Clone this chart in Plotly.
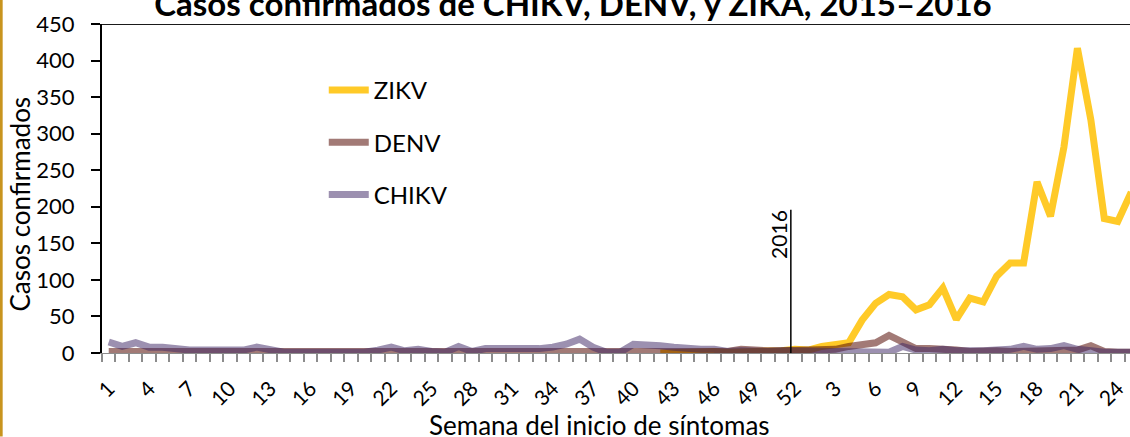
import plotly.graph_objects as go

# ---------------- data ----------------
weeks_2015 = list(range(1, 53))
weeks_2016 = list(range(1, 26))
week_labels = [str(w) for w in weeks_2015] + [str(w) for w in weeks_2016]

zikv_2015 = [None] * 41 + [0, 1, 1, 2, 2, 1, 1, 1, 2, 3, 5]
zikv_2016 = [4, 9, 11, 14, 45, 68, 80, 77, 59, 66, 89, 46, 75, 70, 105, 123, 123,
             234, 187, 282, 417, 319, 184, 180, 220]

denv_2015 = [2, 2, 3, 1, 1, 1, 1, 1, 3, 1, 3, 2, 1, 1, 1, 1, 1, 1, 1, 1, 1, 1, 1, 1, 1, 1, 2,
             1, 1, 1, 1, 1, 1, 1, 1, 1, 1, 1, 1, 1, 1, 1, 2, 2, 2, 3, 2, 5, 3, 3, 3, 3]
denv_2016 = [3, 3, 5, 9, 11, 14, 24, 14, 6, 6, 6, 4, 2, 3, 3, 2, 2, 2, 2, 3, 4, 10, 2, 1, 1]

chikv_2015 = [15, 9, 14, 8, 8, 5, 4, 4, 4, 4, 4, 8, 5, 1, 1, 1, 1, 1, 1, 1, 4, 8, 3, 5, 2, 1, 9,
              2, 6, 6, 4, 4, 6, 8, 12, 19, 8, 1, 1, 12, 12, 10, 8, 6, 5, 5, 2, 3, 2, 2, 3, 3]
chikv_2016 = [2, 2, 3, 3, 3, 3, 1, 9, 4, 3, 5, 3, 2, 3, 4, 5, 9, 5, 6, 10, 5, 2, 1, 1, 1]

series_names = ["ZIKV", "DENV", "CHIKV"]
y_ticks = list(range(0, 451, 50))
year_marker_label = "2016"

# ---------------- build ----------------
FONT = "Lato"
n = len(week_labels)
xpos = list(range(1, n + 1))

zikv = zikv_2015 + zikv_2016
denv = denv_2015 + denv_2016
chikv = chikv_2015 + chikv_2016

colors = {
    "ZIKV": "#FFCA28",
    "DENV": "rgba(86,13,6,0.55)",
    "CHIKV": "rgba(57,33,97,0.5)",
}
data = {"ZIKV": zikv, "DENV": denv, "CHIKV": chikv}

fig = go.Figure()
for name in series_names:
    fig.add_trace(go.Scatter(
        x=xpos, y=data[name], mode="lines", name=name,
        legendgroup=name,
        line=dict(color=colors[name], width=7, shape="linear"),
        connectgaps=False, hoverinfo="skip",
    ))

W, H = 1130, 437
ml, mr, mt, mb = 102.3, 0, 24, 83.7
pw = W - ml - mr
ph = H - mt - mb

x_range = [0.5, 0.5 + pw / 13.45]

major_vals = xpos[::3]
major_text = week_labels[::3]
minor_vals = [i + 0.5 for i in range(0, n + 1)]

fig.update_layout(
    width=W, height=H, autosize=False,
    margin=dict(l=ml, r=mr, t=mt, b=mb, pad=0),
    paper_bgcolor="white", plot_bgcolor="white",
    font=dict(family=FONT, color="black"),
    showlegend=True,
    legend=dict(
        x=(324 - ml) / pw, y=1 - (68 - mt) / ph, xanchor="left", yanchor="top",
        font=dict(size=24, family=FONT, color="black"),
        bgcolor="rgba(0,0,0,0)", tracegroupgap=18, traceorder="grouped",
        itemwidth=40,
    ),
    title=dict(
        text="<b>Casos confirmados de CHIKV, DENV, y ZIKA, 2015–2016</b>",
        x=573 / W, xanchor="center", y=1 - 4 / H, yanchor="middle",
        font=dict(size=33, family=FONT, color="black", weight=900),
    ),
    xaxis=dict(
        range=x_range, tickmode="array", tickvals=major_vals, ticktext=major_text,
        tickangle=-45, ticks="outside", ticklen=14, tickcolor="rgba(0,0,0,0)",
        tickfont=dict(size=21, family=FONT, color="black"),
        showgrid=False, zeroline=False, showline=True, linecolor="#8c8c8c", linewidth=1,
        minor=dict(tickmode="array", tickvals=minor_vals, ticks="outside",
                   ticklen=8, tickcolor="#8c8c8c", tickwidth=1.5, showgrid=False),
        automargin=False, fixedrange=True,
    ),
    yaxis=dict(
        range=[0, 450], tickmode="array", tickvals=y_ticks,
        ticks="outside", ticklen=9, tickcolor="black", tickwidth=1.5,
        tickfont=dict(size=22, family=FONT, color="black"),
        ticklabelstandoff=12,
        showgrid=False, zeroline=False, showline=True, linecolor="black", linewidth=2,
        automargin=False, fixedrange=True,
    ),
    annotations=[
        dict(text="Casos confirmados", xref="paper", yref="paper", textangle=-90,
             x=(20 - ml) / pw, y=1 - (204 - mt) / ph, xanchor="center", yanchor="middle",
             showarrow=False, font=dict(size=26, family=FONT, color="black")),
        dict(text="Semana del inicio de síntomas", xref="paper", yref="paper",
             x=(600 - ml) / pw, y=-(425 - mt - ph) / ph, xanchor="center", yanchor="middle",
             showarrow=False, font=dict(size=26, family=FONT, color="black")),
        dict(text=year_marker_label, xref="x", yref="y", x=51.7, y=162, textangle=-90,
             xanchor="right", yanchor="middle", xshift=2, showarrow=False,
             font=dict(size=21, family=FONT, color="black")),
    ],
    shapes=[
        dict(type="line", xref="paper", yref="y", x0=0, x1=1, y0=450, y1=450,
             line=dict(color="#1a1a1a", width=2)),
        dict(type="line", xref="x", yref="y", x0=51.7, x1=51.7, y0=0, y1=196,
             line=dict(color="black", width=1.5)),
        dict(type="rect", xref="paper", yref="paper",
             x0=-ml / pw, x1=(3 - ml) / pw, y0=-mb / ph, y1=1 + mt / ph,
             fillcolor="#C8941E", line=dict(width=0), layer="above"),
    ],
)

fig.write_html("out.html", config={"displayModeBar": False},
               post_script="document.body.style.margin='0px';")
